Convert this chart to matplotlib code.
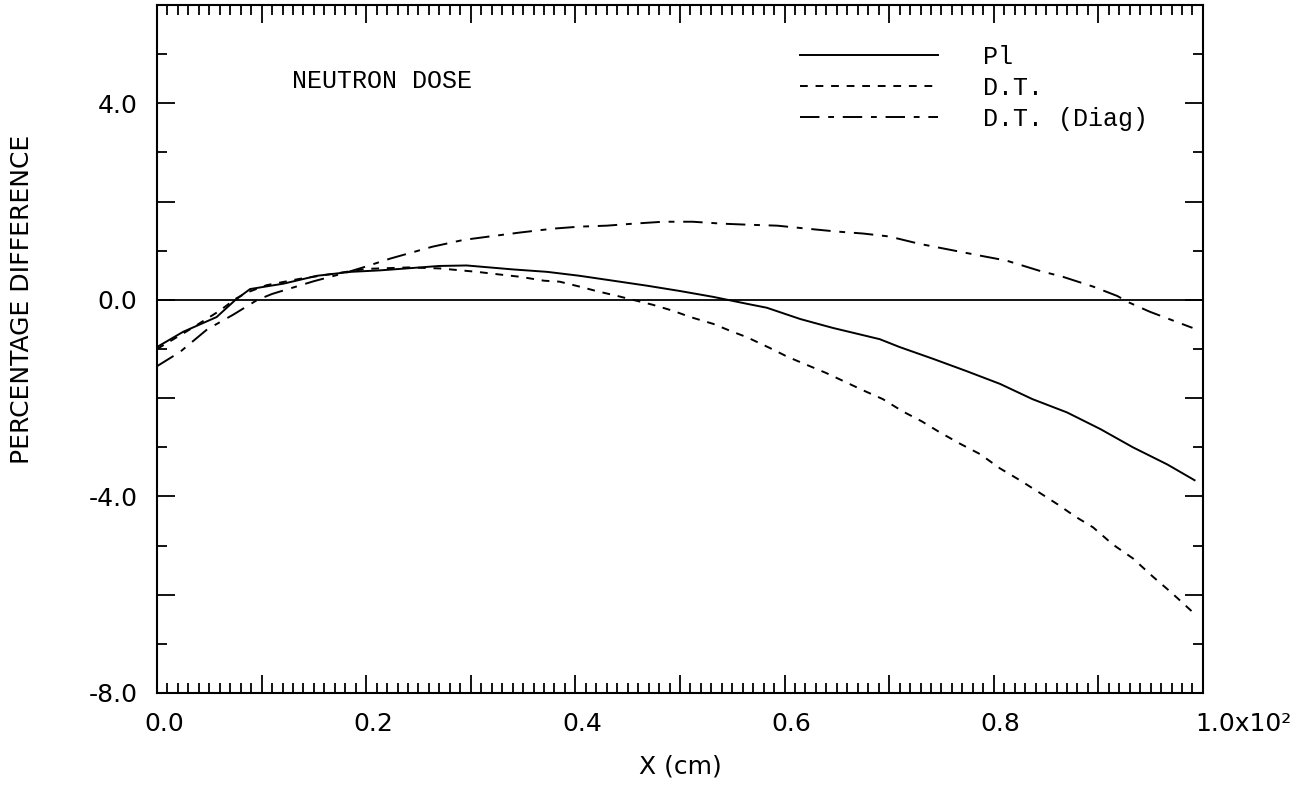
import numpy as np
import matplotlib
matplotlib.use("Agg")
import matplotlib.pyplot as plt
from matplotlib.ticker import MultipleLocator
from matplotlib.transforms import ScaledTranslation

# values (x in units of 1e2 cm)
pl_x = [0.0, 0.025, 0.057, 0.075, 0.089, 0.121, 0.153, 0.185, 0.213, 0.245, 0.27,
        0.296, 0.34, 0.373, 0.404, 0.436, 0.468, 0.5, 0.532, 0.564, 0.583, 0.615,
        0.646, 0.691, 0.71, 0.742, 0.774, 0.806, 0.837, 0.87, 0.902, 0.933, 0.966, 0.992]
pl_y = [-0.96, -0.65, -0.35, 0.0, 0.22, 0.33, 0.49, 0.57, 0.6, 0.65, 0.69,
        0.7, 0.62, 0.57, 0.49, 0.39, 0.29, 0.18, 0.06, -0.08, -0.16, -0.39,
        -0.57, -0.8, -0.96, -1.2, -1.45, -1.71, -2.02, -2.29, -2.63, -3.0, -3.35, -3.67]

dt_x = [0.0, 0.03, 0.06, 0.075, 0.086, 0.105, 0.137, 0.165, 0.2, 0.24, 0.27, 0.306,
        0.33, 0.347, 0.37, 0.385, 0.404, 0.42, 0.44, 0.474, 0.493, 0.51, 0.532, 0.548,
        0.564, 0.586, 0.603, 0.622, 0.64, 0.656, 0.675, 0.694, 0.713, 0.731, 0.748,
        0.768, 0.787, 0.806, 0.825, 0.842, 0.861, 0.878, 0.895, 0.914, 0.933, 0.952,
        0.97, 0.99]
dt_y = [-1.0, -0.62, -0.22, 0.02, 0.15, 0.3, 0.43, 0.52, 0.63, 0.66, 0.64, 0.57,
        0.51, 0.47, 0.39, 0.37, 0.27, 0.18, 0.08, -0.1, -0.22, -0.35, -0.49, -0.63,
        -0.76, -0.98, -1.16, -1.33, -1.49, -1.65, -1.84, -2.02, -2.27, -2.47, -2.69,
        -2.93, -3.14, -3.43, -3.67, -3.9, -4.16, -4.41, -4.63, -4.98, -5.26, -5.63,
        -5.96, -6.35]

diag_x = [0.0, 0.022, 0.048, 0.073, 0.096, 0.11, 0.13, 0.15, 0.18, 0.2, 0.223, 0.263,
          0.293, 0.318, 0.347, 0.379, 0.404, 0.43, 0.455, 0.484, 0.512, 0.541, 0.564,
          0.593, 0.621, 0.65, 0.675, 0.7, 0.729, 0.758, 0.787, 0.812, 0.844, 0.866,
          0.895, 0.918, 0.93, 0.949, 0.975, 0.99]
diag_y = [-1.35, -1.06, -0.6, -0.3, 0.0, 0.12, 0.25, 0.38, 0.55, 0.68, 0.84, 1.08,
          1.22, 1.29, 1.37, 1.45, 1.49, 1.51, 1.55, 1.59, 1.59, 1.55, 1.53,
          1.51, 1.45, 1.39, 1.35, 1.29, 1.14, 1.02, 0.9, 0.8, 0.59, 0.47,
          0.27, 0.08, -0.06, -0.24, -0.45, -0.57]

xtick_vals = [0.0, 0.2, 0.4, 0.6, 0.8, 1.0]
xtick_text = ["0.0", "0.2", "0.4", "0.6", "0.8", "1.0x10\u00b2"]
ytick_vals = [-8.0, -4.0, 0.0, 4.0]
ytick_text = ["-8.0", "-4.0", "0.0", "4.0"]

fig = plt.figure(figsize=(13.04, 7.96), dpi=100)
ax = fig.add_axes([0.1204, 0.1294, 0.8021, 0.8643])

lw = 1.4
ax.axhline(0.0, color="black", lw=1.3)
ax.plot(pl_x, pl_y, color="black", lw=lw, label="Pl")
ax.plot(dt_x, dt_y, color="black", lw=lw, ls=(0, (4, 4)), label="D.T.")
ax.plot(diag_x, diag_y, color="black", lw=lw, ls=(0, (10, 4.5, 3, 4.5)), label="D.T. (Diag)")

# ticks: inward on every side
ax.xaxis.set_major_locator(MultipleLocator(0.1))
ax.xaxis.set_minor_locator(MultipleLocator(0.01))
ax.yaxis.set_major_locator(MultipleLocator(2))
ax.yaxis.set_minor_locator(MultipleLocator(1))
ax.tick_params(which="both", direction="in", top=True, right=True, color="black", width=1.3)
ax.tick_params(which="major", length=13, labelsize=18, pad=14)
ax.tick_params(which="minor", length=7)

def pick_labels(ticks, vals, texts):
    out = []
    for v in ticks:
        lab = ""
        for tv, tt in zip(vals, texts):
            if abs(v - tv) < 1e-6:
                lab = tt
        out.append(lab)
    return out

ax.set_xlim(0, 1.0)
ax.set_ylim(-8, 6)
xt = ax.get_xticks()
ax.set_xticks(xt)
ax.set_xticklabels(pick_labels(xt, xtick_vals, xtick_text))
yt = ax.get_yticks()
ax.set_yticks(yt)
ax.set_yticklabels(pick_labels(yt, ytick_vals, ytick_text))
ax.set_xlim(0, 1.0)
ax.set_ylim(-8, 6)

# nudge x labels a bit right, last one (with exponent) further out
for t in ax.get_xticklabels():
    dx = 40 if "x10" in t.get_text() else 7
    t.set_transform(t.get_transform() + ScaledTranslation(dx / 100, 0, fig.dpi_scale_trans))

for s in ax.spines.values():
    s.set_linewidth(1.5)

ax.set_xlabel("X (cm)", fontsize=18, labelpad=13)
ax.set_ylabel("PERCENTAGE DIFFERENCE", fontsize=18)
ax.yaxis.set_label_coords(-0.118, 8 / 14)

ax.text(0.129, 4.45, "NEUTRON DOSE", family="Liberation Mono", fontsize=18,
        va="center", ha="left")

leg = ax.legend(loc="upper left", bbox_to_anchor=(0.615, 0.942), frameon=False,
                prop={"family": "Liberation Mono", "size": 18},
                handlelength=5.5, handletextpad=1.8, labelspacing=0.28,
                borderpad=0, borderaxespad=0)

fig.savefig("out.png", dpi=100)
